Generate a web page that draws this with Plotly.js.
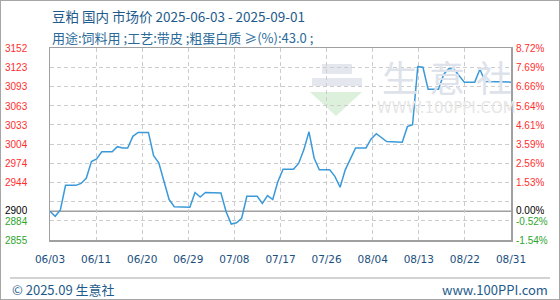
<!DOCTYPE html>
<html>
<head>
<meta charset="utf-8">
<script src="https://cdn.plot.ly/plotly-3.0.1.min.js"></script>
<style>
  html,body{margin:0;padding:0;background:#fff;}
  #wrap{position:relative;width:560px;height:300px;}
  #chart{width:560px;height:300px;}
  #frame{position:absolute;left:0;top:0;width:558px;height:298px;border:1px solid #a6a6a6;pointer-events:none;}
</style>
</head>
<body>
<div id="wrap"><div id="chart"></div><div id="frame"></div></div>
<script>
// ---- data ----
const titleLine1 = '豆粕 国内 市场价 2025-06-03 - 2025-09-01';
const titleLine2 = '用途:饲料用 ;工艺:带皮 ;粗蛋白质 ≥(%):43.0 ;';
const footerLeft = '© 2025.09 生意社';
const footerRight = 'www.100PPI.com';

const dates = ['2025-06-03','2025-06-04','2025-06-05','2025-06-06','2025-06-08','2025-06-09','2025-06-10','2025-06-11','2025-06-12','2025-06-13',
               '2025-06-15','2025-06-16','2025-06-17','2025-06-18','2025-06-19','2025-06-20','2025-06-22','2025-06-23','2025-06-24','2025-06-25',
               '2025-06-26','2025-06-27','2025-06-30','2025-07-01','2025-07-02','2025-07-03','2025-07-06','2025-07-07','2025-07-08','2025-07-09',
               '2025-07-10','2025-07-11','2025-07-13','2025-07-14','2025-07-15','2025-07-16','2025-07-17','2025-07-18','2025-07-20','2025-07-21',
               '2025-07-22','2025-07-23','2025-07-24','2025-07-25','2025-07-27','2025-07-28','2025-07-29','2025-07-30','2025-08-01','2025-08-03',
               '2025-08-04','2025-08-05','2025-08-07','2025-08-10','2025-08-11','2025-08-12','2025-08-13','2025-08-14','2025-08-15','2025-08-17',
               '2025-08-18','2025-08-19','2025-08-20','2025-08-21','2025-08-22','2025-08-24','2025-08-25','2025-08-26','2025-08-31'];
const prices = [2900,2892,2902,2940,2940,2943,2951,2977,2981,2992,
                2992,3000,2998,2998,3016,3022,3022,2986,2975,2948,
                2918,2907,2906,2929,2922,2929,2928,2899,2880,2882,
                2889,2923,2923,2912,2924,2918,2946,2965,2965,2974,
                2995,3023,2982,2964,2964,2954,2937,2964,2998,2998,
                3012,3020,3008,3007,3031,3034,3124,3123,3089,3089,
                3112,3121,3120,3110,3100,3100,3120,3101,3100];

const basePrice = 2900;
const xStart = '2025-06-03';
const xEnd = '2025-08-31';
const xTickText = ['06/03','06/11','06/20','06/29','07/08','07/17','07/26','08/04','08/13','08/22','08/31'];

const yMin = 2855.3, yMax = 3152.9;
const leftTickVals = [3152.9,3123.1,3093.4,3063.6,3033.9,3004.1,2974.4,2944.6,2900,2885.1,2855.3];
const leftTickText = ['3152','3123','3093','3063','3033','3004','2974','2944','2900','2884','2855'];
const rightTickText = ['8.72%','7.69%','6.66%','5.64%','4.61%','3.59%','2.56%','1.53%','0.00%','-0.52%','-1.54%'];
const tickKind = ['up','up','up','up','up','up','up','up','base','down','down'];

// ---- layout helpers (pixel -> paper) ----
const L = 50, R = 511, T = 48, B = 240;
const W = R - L, H = B - T;
const px = x => (x - L) / W;
const py = y => (B - y) / H;

const kindColor = {up:'#ff2e2e', base:'#000000', down:'#2ea52e'};
const gridVals = [];
for (let k = 0; k <= 10; k++) gridVals.push(yMin + k * (yMax - yMin) / 10);

const t0 = Date.parse(xStart + 'T00:00:00Z'), t1 = Date.parse(xEnd + 'T00:00:00Z');
const xTickVals = xTickText.map((_, k) => new Date(t0 + k * (t1 - t0) / 10).toISOString().slice(0, 19).replace('T', ' '));

const annotations = [];
leftTickVals.forEach((v, i) => {
  const ys = tickKind[i] === 'base' ? 1.5 : (i === 9 ? -0.5 : 0);
  annotations.push({xref:'paper', yref:'y', x:px(4), y:v, xanchor:'left', yanchor:'middle', showarrow:false,
    height:10, borderpad:0, yshift:ys,
    text:leftTickText[i], font:{family:'Liberation Sans, Arial', size:10, color:kindColor[tickKind[i]]}});
  annotations.push({xref:'paper', yref:'y', x:px(515), y:v, xanchor:'left', yanchor:'middle', showarrow:false,
    height:10, borderpad:0, yshift:ys,
    text:rightTickText[i], font:{family:'Liberation Sans, Arial', size:10, color:kindColor[tickKind[i]]}});
});
// titles
annotations.push({xref:'paper', yref:'paper', x:px(50), y:py(16), xanchor:'left', yanchor:'middle', showarrow:false,
  text:titleLine1, font:{family:'Noto Sans CJK SC, Noto Sans', size:13.5, color:'#1e5b8c'}});
annotations.push({xref:'paper', yref:'paper', x:px(50), y:py(37.5), xanchor:'left', yanchor:'middle', showarrow:false,
  text:titleLine2, font:{family:'Noto Sans CJK SC, Noto Sans', size:13, color:'#2a6a9a'}});
// footer
annotations.push({xref:'paper', yref:'paper', x:px(10), y:py(289), xanchor:'left', yanchor:'middle', showarrow:false,
  text:footerLeft, font:{family:'Noto Sans CJK SC, Noto Sans', size:13, color:'#1e5b8c'}});
annotations.push({xref:'paper', yref:'paper', x:px(550), y:py(289), xanchor:'right', yanchor:'middle', showarrow:false,
  text:footerRight, font:{family:'Noto Sans CJK SC, Noto Sans', size:13, color:'#1e5b8c'}});
// watermark
['生','意','社'].forEach((c, i) => {
  annotations.push({xref:'paper', yref:'paper', x:px(400 + i * 47), y:py(76), xanchor:'center', yanchor:'middle', showarrow:false,
    text:c, font:{family:'Noto Sans CJK SC', size:36, color:'#dde2eb'}});
});
annotations.push({xref:'paper', yref:'paper', x:px(446), y:py(108), xanchor:'center', yanchor:'middle', showarrow:false,
  text:'WWW.100PPI.COM', font:{family:'DejaVu Sans', size:15, color:'#e6e6e6'}});

const shapes = [
  {type:'line', xref:'paper', yref:'y', x0:0, x1:1, y0:basePrice, y1:basePrice, line:{color:'#a0a0a0', width:1.5}, layer:'below'},
  {type:'line', xref:'paper', yref:'paper', x0:px(10), x1:px(550), y0:py(278), y1:py(278), line:{color:'#a6a6a6', width:1}},
  {type:'rect', xref:'paper', yref:'paper', x0:px(312), x1:px(362), y0:py(78), y1:py(86), line:{width:0}, fillcolor:'#e4e7ee', layer:'below'},
  {type:'rect', xref:'paper', yref:'paper', x0:px(322), x1:px(352), y0:py(64), y1:py(74), line:{width:0}, fillcolor:'#e4e7ee', layer:'below'},
  {type:'path', xref:'paper', yref:'paper', layer:'below', line:{width:0}, fillcolor:'#dcf0dc',
    path:'M '+px(310)+' '+py(92)+' L '+px(362)+' '+py(92)+' L '+px(336)+' '+py(116)+' Z'}
];

const trace = {
  x: dates, y: prices, type:'scatter', mode:'lines',
  line:{color:'#3a9ad9', width:1.5, shape:'linear'},
  hoverinfo:'skip'
};

const layout = {
  width:560, height:300,
  margin:{l:L, r:560 - R, t:T, b:300 - B, pad:0},
  paper_bgcolor:'#ffffff', plot_bgcolor:'#ffffff',
  showlegend:false,
  xaxis:{
    type:'date', range:[xStart, xEnd], tickmode:'array', tickvals:xTickVals, ticktext:xTickText,
    showgrid:true, gridcolor:'#cccccc', griddash:'4px,3px', gridwidth:1,
    showline:true, linecolor:'#a0a0a0', linewidth:1.5, mirror:true, ticks:'', zeroline:false,
    ticklabelstandoff:9,
    tickfont:{family:'DejaVu Sans', size:10.5, color:'#1b4f7e'}, fixedrange:true
  },
  yaxis:{
    range:[yMin, yMax], tickmode:'array', tickvals:gridVals, showticklabels:false,
    showgrid:true, gridcolor:'#cccccc', griddash:'4px,3px', gridwidth:1,
    showline:true, linecolor:'#a0a0a0', linewidth:1.5, mirror:true, ticks:'', zeroline:false, fixedrange:true
  },
  annotations: annotations,
  shapes: shapes
};

Plotly.newPlot('chart', [trace], layout, {displayModeBar:false, staticPlot:true});
</script>
</body>
</html>
